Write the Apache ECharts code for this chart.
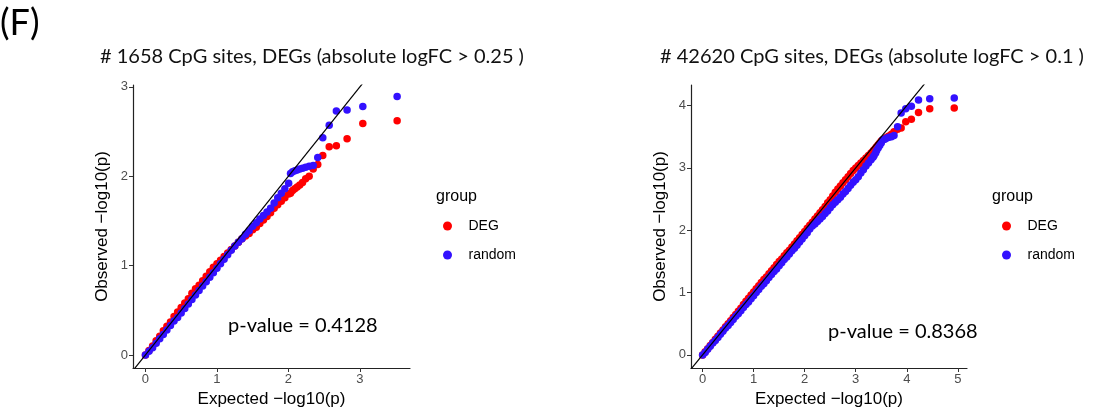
<!DOCTYPE html>
<html>
<head>
    <meta http-equiv="Content-Type" content="text/html; charset=utf-8" />
    <title>QQ plot</title>
    <script src="https://cdn.jsdelivr.net/npm/echarts@6/dist/echarts.min.js"></script>
</head>
<body style="margin:0;padding:0;background:#ffffff;">
    <div id="main" style="width:1097px;height:414px;"></div>
    <script type="text/javascript">
        /*************************************************************
        * data
        *************************************************************/
        // left panel: 1658 CpG sites
        var leftExpected = [0, 0.05, 0.1, 0.15, 0.2, 0.25, 0.3, 0.35, 0.4, 0.45, 0.5, 0.55, 0.6, 0.65, 0.7, 0.75, 0.8, 0.85, 0.9, 0.95,
            1.0, 1.05, 1.1, 1.15, 1.2, 1.25, 1.3, 1.35, 1.4, 1.45, 1.5, 1.55, 1.6, 1.65, 1.7, 1.75, 1.8, 1.85, 1.9, 1.95,
            2.003, 2.029, 2.058, 2.089, 2.122, 2.158, 2.197, 2.241, 2.29, 2.346, 2.41, 2.48, 2.57, 2.67, 2.82, 3.04, 3.52];
        var leftDEG = [0, 0.05, 0.1, 0.16, 0.21, 0.27, 0.32, 0.37, 0.43, 0.48, 0.53, 0.58, 0.63, 0.69, 0.74, 0.78, 0.83, 0.88, 0.93, 0.98,
            1.02, 1.06, 1.10, 1.14, 1.18, 1.22, 1.26, 1.30, 1.33, 1.36, 1.40, 1.43, 1.47, 1.51, 1.55, 1.59, 1.64, 1.68, 1.72, 1.76,
            1.80, 1.81, 1.84, 1.86, 1.88, 1.90, 1.93, 1.97, 2.00, 2.08, 2.13, 2.23, 2.33, 2.34, 2.42, 2.59, 2.62];
        var leftRandom = [0, 0.04, 0.08, 0.13, 0.18, 0.23, 0.28, 0.33, 0.38, 0.42, 0.47, 0.52, 0.57, 0.62, 0.67, 0.72, 0.77, 0.82, 0.87, 0.92,
            0.97, 1.02, 1.07, 1.12, 1.17, 1.22, 1.26, 1.30, 1.35, 1.39, 1.44, 1.48, 1.52, 1.56, 1.60, 1.64, 1.70, 1.76, 1.81, 1.86,
            1.92, 2.03, 2.05, 2.06, 2.07, 2.08, 2.09, 2.10, 2.11, 2.12, 2.21, 2.43, 2.57, 2.73, 2.74, 2.78, 2.89];

        // right panel: 42620 CpG sites
        var rightExpected = [0, 0.05, 0.1, 0.15, 0.2, 0.25, 0.3, 0.35, 0.4, 0.45, 0.5, 0.55, 0.6, 0.65, 0.7, 0.75, 0.8, 0.85, 0.9, 0.95,
            1.0, 1.05, 1.1, 1.15, 1.2, 1.25, 1.3, 1.35, 1.4, 1.45, 1.5, 1.55, 1.6, 1.65, 1.7, 1.75, 1.8, 1.85, 1.9, 1.95,
            2.0, 2.05, 2.1, 2.15, 2.2, 2.25, 2.3, 2.35, 2.4, 2.45, 2.5, 2.55, 2.6, 2.65, 2.7, 2.75, 2.8, 2.85, 2.9, 2.95,
            3.0, 3.05, 3.1, 3.15, 3.2, 3.25, 3.3,
            3.34, 3.36, 3.39, 3.41, 3.44, 3.47, 3.50, 3.53, 3.57, 3.61, 3.65, 3.70, 3.75, 3.82, 3.89, 3.98, 4.09, 4.23, 4.45, 4.93];
        var rightDEG = [0, 0.05, 0.1, 0.15, 0.2, 0.25, 0.3, 0.35, 0.4, 0.45, 0.5, 0.55, 0.6, 0.65, 0.7, 0.75, 0.81, 0.86, 0.91, 0.96,
            1.01, 1.06, 1.11, 1.16, 1.21, 1.25, 1.3, 1.35, 1.4, 1.45, 1.5, 1.54, 1.59, 1.64, 1.68, 1.73, 1.78, 1.83, 1.88, 1.93,
            1.98, 2.03, 2.08, 2.13, 2.18, 2.23, 2.28, 2.33, 2.38, 2.44, 2.49, 2.55, 2.61, 2.66, 2.71, 2.76, 2.81, 2.86, 2.91, 2.96,
            3.0, 3.04, 3.08, 3.12, 3.16, 3.2, 3.24,
            3.27, 3.29, 3.32, 3.34, 3.37, 3.40, 3.43, 3.45, 3.47, 3.49, 3.51, 3.54, 3.58, 3.62, 3.64, 3.74, 3.78, 3.89, 3.95, 3.96];
        var rightRandom = [0, 0.04, 0.09, 0.14, 0.19, 0.23, 0.28, 0.33, 0.38, 0.43, 0.47, 0.52, 0.57, 0.62, 0.66, 0.71, 0.76, 0.81, 0.85, 0.9,
            0.95, 1.0, 1.05, 1.1, 1.14, 1.19, 1.24, 1.29, 1.34, 1.38, 1.43, 1.48, 1.53, 1.57, 1.62, 1.67, 1.71, 1.76, 1.81, 1.86,
            1.91, 1.96, 2.02, 2.07, 2.1, 2.14, 2.18, 2.22, 2.27, 2.31, 2.36, 2.41, 2.45, 2.49, 2.53, 2.58, 2.62, 2.67, 2.72, 2.77,
            2.81, 2.86, 2.92, 2.97, 3.03, 3.08, 3.13,
            3.17, 3.20, 3.24, 3.28, 3.32, 3.36, 3.40, 3.45, 3.46, 3.48, 3.49, 3.50, 3.52, 3.66, 3.88, 3.95, 3.99, 4.09, 4.11, 4.12];

        var leftXTicks = [0, 1, 2, 3];
        var leftYTicks = [0, 1, 2, 3];
        var rightXTicks = [0, 1, 2, 3, 4, 5];
        var rightYTicks = [0, 1, 2, 3, 4];
        var groups = ['DEG', 'random'];
        var leftTitle = '# 1658 CpG sites, DEGs (absolute logFC > 0.25 )';
        var rightTitle = '# 42620 CpG sites, DEGs (absolute logFC > 0.1 )';
        var leftPValue = 'p-value = 0.4128';
        var rightPValue = 'p-value = 0.8368';

        /*************************************************************
        * helpers
        *************************************************************/
        var axisFont = 'Liberation Sans';
        var noteFont = 'Lato';

        function zip(xs, ys) {
            var out = [];
            for (var i = 0; i < xs.length; i++) out.push([xs[i], ys[i]]);
            return out;
        }

        function makeAxis(gi, min, max, ticks, name, isY) {
            return {
                gridIndex: gi,
                type: 'value',
                min: min,
                max: max,
                name: name,
                nameLocation: 'middle',
                nameGap: isY ? 22 : 21,
                nameTextStyle: { color: '#000', fontSize: 17, fontFamily: axisFont },
                splitLine: { show: false },
                axisLine: { show: true, onZero: false, lineStyle: { color: '#222', width: 1.2 } },
                axisTick: { show: true, length: 4, customValues: ticks, lineStyle: { color: '#333', width: 1 } },
                axisLabel: { customValues: ticks, color: '#4d4d4d', fontSize: 13, fontFamily: axisFont, margin: 5 }
            };
        }

        function pointSeries(name, color, gi, data) {
            return {
                name: name,
                type: 'scatter',
                xAxisIndex: gi,
                yAxisIndex: gi,
                symbol: 'circle',
                symbolSize: 7.5,
                itemStyle: { color: color, opacity: 1 },
                data: data
            };
        }

        function diagSeries(gi, lim) {
            return {
                type: 'line',
                xAxisIndex: gi,
                yAxisIndex: gi,
                symbol: 'none',
                clip: true,
                z: 5,
                lineStyle: { color: '#000', width: 1.2 },
                data: [[-1, -1], [lim, lim]]
            };
        }

        function legendBlock(left) {
            return {
                orient: 'vertical',
                left: left,
                top: 219,
                padding: 0,
                itemGap: 15,
                itemWidth: 32,
                itemHeight: 9,
                icon: 'circle',
                data: groups,
                textStyle: { color: '#000', fontSize: 14, fontFamily: axisFont }
            };
        }

        /*************************************************************
        * chart
        *************************************************************/
        var chart = echarts.init(document.getElementById('main'));
        var option = {
            animation: false,
            backgroundColor: '#ffffff',
            color: ['#ff0000', '#3311ff'],
            grid: [
                { left: 133, top: 85, width: 277, height: 283 },
                { left: 691, top: 85, width: 276, height: 283 }
            ],
            xAxis: [
                makeAxis(0, -0.174, 3.70, leftXTicks, 'Expected \u2212log10(p)', false),
                makeAxis(1, -0.227, 5.18, rightXTicks, 'Expected \u2212log10(p)', false)
            ],
            yAxis: [
                makeAxis(0, -0.146, 3.02, leftYTicks, 'Observed \u2212log10(p)', true),
                makeAxis(1, -0.21, 4.33, rightYTicks, 'Observed \u2212log10(p)', true)
            ],
            legend: [legendBlock(443), legendBlock(1002)],
            graphic: [
                { type: 'text', left: 0, top: 5, style: { text: '(F)', fontSize: 36, fontFamily: noteFont, fill: '#000' } },
                { type: 'text', x: 312, y: 57, style: { text: leftTitle, fontSize: 20, fontFamily: noteFont, fill: '#111', align: 'center', verticalAlign: 'middle' } },
                { type: 'text', x: 872, y: 57, style: { text: rightTitle, fontSize: 20, fontFamily: noteFont, fill: '#111', align: 'center', verticalAlign: 'middle' } },
                { type: 'text', x: 436, y: 197, style: { text: 'group', fontSize: 16, fontFamily: axisFont, fill: '#000', verticalAlign: 'middle' } },
                { type: 'text', x: 992, y: 197, style: { text: 'group', fontSize: 16, fontFamily: axisFont, fill: '#000', verticalAlign: 'middle' } },
                { type: 'text', x: 228, y: 326, style: { text: leftPValue, fontSize: 20, fontFamily: noteFont, fill: '#000', verticalAlign: 'middle' } },
                { type: 'text', x: 828, y: 332, style: { text: rightPValue, fontSize: 20, fontFamily: noteFont, fill: '#000', verticalAlign: 'middle' } }
            ],
            series: [
                pointSeries('DEG', '#ff0000', 0, zip(leftExpected, leftDEG)),
                pointSeries('random', '#3311ff', 0, zip(leftExpected, leftRandom)),
                diagSeries(0, 4),
                pointSeries('DEG', '#ff0000', 1, zip(rightExpected, rightDEG)),
                pointSeries('random', '#3311ff', 1, zip(rightExpected, rightRandom)),
                diagSeries(1, 6)
            ]
        };
        chart.setOption(option);
    </script>
</body>
</html>
